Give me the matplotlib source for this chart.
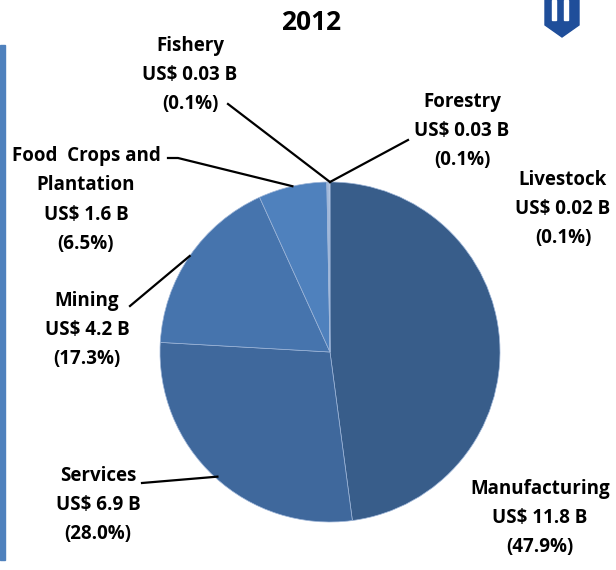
import numpy as np
import matplotlib.pyplot as plt
from matplotlib.patches import Polygon, Rectangle

sectors = ['Manufacturing', 'Services', 'Mining', 'Food  Crops and\nPlantation',
           'Fishery', 'Forestry', 'Livestock']
values_b = ['11.8', '6.9', '4.2', '1.6', '0.03', '0.03', '0.02']
shares = [47.9, 28.0, 17.3, 6.5, 0.1, 0.1, 0.1]
colors = ['#385D8A', '#3F689C', '#4674AD', '#4F81BD', '#A9C0DE', '#C6D5EA', '#DCE6F2']

W, H = 616, 570
fig = plt.figure(figsize=(W / 100, H / 100), dpi=100)
ax = fig.add_axes([0, 0, 1, 1])

cx, cy, r = 330, H - 352, 170
wedges, _ = ax.pie(shares, colors=colors, startangle=90, counterclock=False,
                   center=(cx, cy), radius=r, frame=True,
                   wedgeprops=dict(edgecolor='#9DB5D8', linewidth=0.5))
ax.set_xlim(0, W)
ax.set_ylim(0, H)
ax.set_aspect('equal')
ax.axis('off')

# label centre (pixel from top), leader start
lab_pos = {
    'Manufacturing': (540, 518, None),
    'Services': (98, 505, (142, 483)),
    'Mining': (87, 330, (130, 306)),
    'Food  Crops and\nPlantation': (86, 200, (168, 158)),
    'Fishery': (190, 75, (228, 104)),
    'Forestry': (462, 131, (408, 140)),
    'Livestock': (563, 209, None),
}
font = dict(family=['Open Sans', 'DejaVu Sans'], fontsize=13.5, fontweight='bold')
for w, name, v, s in zip(wedges, sectors, values_b, shares):
    x, y, lead = lab_pos[name]
    txt = f'{name}\nUS$ {v} B\n({s:.1f}%)'
    ax.text(x, H - y, txt, ha='center', va='center', linespacing=1.62, **font)
    if lead is not None:
        ang = np.deg2rad((w.theta1 + w.theta2) / 2)
        if name in ('Fishery', 'Forestry'):
            ang = np.deg2rad(90)
        ex, ey = cx + r * np.cos(ang), cy + r * np.sin(ang)
        lx, ly = lead
        if name.startswith('Food'):
            ax.plot([lx, lx + 10, ex], [H - ly, H - ly, ey], color='black', lw=1.6)
        elif name == 'Services':
            ax.plot([lx, ex + 3], [H - ly, ey], color='black', lw=1.6)
        else:
            ax.plot([lx, ex], [H - ly, ey], color='black', lw=1.6)

ax.text(311, H - 22, '2012', ha='center', va='center',
        family=['Open Sans', 'DejaVu Sans'], fontsize=19, fontweight='bold')

# left accent bar
ax.add_patch(Rectangle((0, H - 560), 5, 515, color='#4F81BD'))
# logo shield
ax.add_patch(Polygon([(545, H), (545, H - 25), (562, H - 37), (579, H - 25), (579, H)],
                     closed=True, color='#1F4E9A'))
ax.add_patch(Rectangle((552, H - 20), 4, 20, color='white'))
ax.add_patch(Rectangle((564, H - 20), 4, 20, color='white'))

fig.savefig('out.png', dpi=100)
